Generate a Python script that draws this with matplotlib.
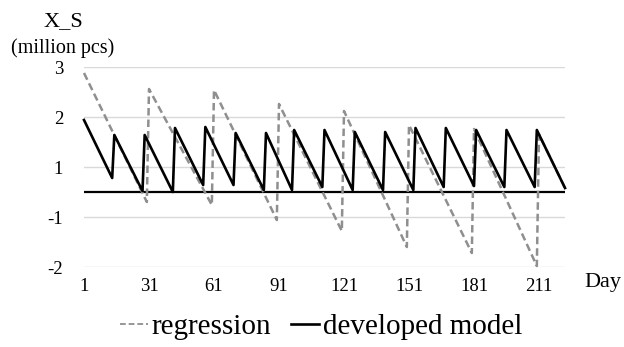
import matplotlib
matplotlib.use("Agg")
import matplotlib.pyplot as plt
from matplotlib.lines import Line2D

plt.rcParams['font.family'] = ['Liberation Serif', 'DejaVu Serif']

# ---- data (plotted scale: gridlines at 2.5,1.5,0.5,-0.5,-1.5 labelled 3,2,1,-1,-2) ----
reg_days = [1, 30, 31, 60, 61, 90, 91, 120, 121, 150, 151, 180, 181, 210, 211, 223]
reg_vals = [2.38, -0.20, 2.06, -0.26, 2.04, -0.56, 1.76, -0.78, 1.62, -1.10,
            1.34, -1.22, 1.26, -1.48, 1.15, 0.08]

dev_days = [1, 14, 15, 28, 29, 42, 43, 56, 57, 70, 71, 84, 85, 97, 98, 111, 112,
            125, 126, 139, 140, 153, 154, 167, 168, 181, 182, 195, 196, 209, 210, 223]
dev_vals = [1.44, 0.28, 1.14, 0.02, 1.14, 0.00, 1.28, 0.14, 1.30, 0.14, 1.18, 0.04,
            1.18, 0.04, 1.24, 0.10, 1.24, 0.04, 1.20, 0.04, 1.20, 0.04, 1.28, 0.10,
            1.28, 0.12, 1.24, 0.10, 1.24, 0.10, 1.24, 0.08]

x_ticks = [1, 31, 61, 91, 121, 151, 181, 211]
x_tick_labels = ['1', '31', '61', '91', '121', '151', '181', '211']
y_ticks = [2.5, 1.5, 0.5, -0.5, -1.5]
y_tick_labels = ['3', '2', '1', '-1', '-2']

W, H = 624, 347
fig = plt.figure(figsize=(W / 100, H / 100), dpi=100)
ax = fig.add_axes([84 / W, 1 - 267 / H, (565 - 84) / W, (267 - 67) / H])

ax.plot(reg_days, reg_vals, color='#8f8f8f', lw=1.8, ls=(0, (3.0, 1.6)),
        clip_on=False, zorder=3)
ax.plot(dev_days, dev_vals, color='black', lw=1.9, clip_on=False, zorder=4)
ax.axhline(0, color='black', lw=1.6, zorder=2)

ax.set_xlim(1, 223)
ax.set_ylim(-1.5, 2.5)
ax.set_yticks(y_ticks)
ax.set_yticklabels(y_tick_labels)
ax.set_xticks(x_ticks)
ax.set_xticklabels(x_tick_labels)
ax.grid(axis='y', color='#d9d9d9', lw=1)
ax.set_axisbelow(True)
for s in ax.spines.values():
    s.set_visible(False)
ax.tick_params(axis='both', length=0, labelsize=13.5)
ax.tick_params(axis='y', pad=15)
ax.tick_params(axis='x', pad=8)

fig.text(63 / W, 1 - 22 / H, 'X_S', ha='center', va='center', fontsize=16)
fig.text(63 / W, 1 - 48 / H, '(million pcs)', ha='center', va='center', fontsize=14.5)
fig.text(603 / W, 1 - 283 / H, 'Day', ha='center', va='center', fontsize=16)

handles = [Line2D([], [], color='#8f8f8f', lw=1.3, ls=(0, (3.2, 1.6))),
           Line2D([], [], color='black', lw=1.9)]
fig.legend(handles, ['regression', 'developed model'], loc='center',
           bbox_to_anchor=(321 / W, 1 - 327 / H), ncol=2, frameon=False,
           fontsize=21, handlelength=0.95, handletextpad=0.12, columnspacing=0.7,
           borderaxespad=0, borderpad=0)

fig.savefig('out.png', dpi=100)
